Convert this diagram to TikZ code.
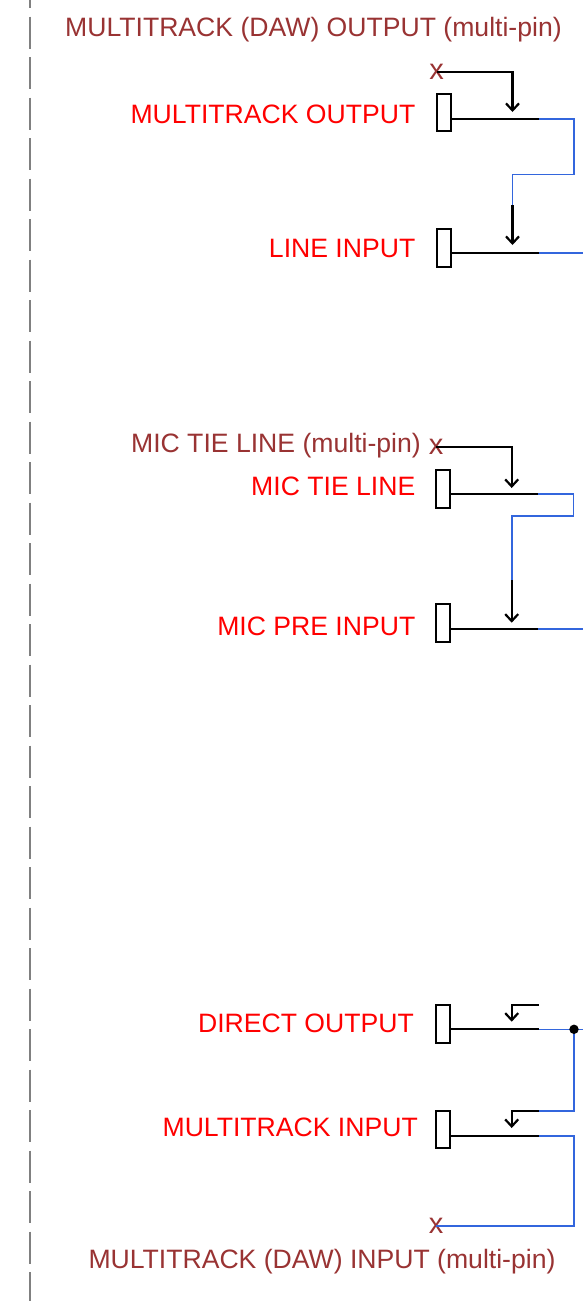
\documentclass[tikz,border=0pt]{standalone}
\usepackage{fontspec}
\setmainfont{Liberation Sans}
\usetikzlibrary{arrows.meta}
\definecolor{lblred}{HTML}{FF0000}
\definecolor{darkred}{HTML}{993333}
\definecolor{wireblue}{HTML}{3366DD}
\definecolor{dashgrey}{HTML}{808080}
\begin{document}
\begin{tikzpicture}[x=1pt,y=-1pt,
  jack/.style={draw=black,line width=2pt,minimum width=14.5pt,minimum height=37.5pt,inner sep=0pt,fill=white},
  lbl/.style={text=lblred,font=\fontsize{26.6}{31}\selectfont,anchor=base east,inner sep=0pt},
  ttl/.style={text=darkred,font=\fontsize{26.6}{31}\selectfont,anchor=base west,inner sep=0pt},
  xmark/.style={text=darkred,font=\fontsize{29}{32}\selectfont,inner sep=0pt},
  wire/.style={draw=black,line width=2.2pt},
  bwire/.style={draw=wireblue,line width=1.6pt},
  sig/.style={draw=black,line width=2.2pt,-{Straight Barb[length=7pt,width=13pt,line width=2.2pt]}},
  divider/.style={draw=dashgrey,line width=2pt,dash pattern=on 32pt off 8.5pt,dash phase=24pt}
]
\useasboundingbox (0,0) rectangle (583,1301);
\fill[white] (0,0) rectangle (583,1301);
\coordinate (dtop) at (30,0);
\coordinate (dbot) at (30,1301);
\draw[divider] (dtop) -- (dbot);

% titles
\node[ttl] (t1) at (65,36.7) {MULTITRACK (DAW) OUTPUT (multi-pin)};
\node[ttl] (t2) at (88.3,1268.3) {MULTITRACK (DAW) INPUT (multi-pin)};
\node[ttl,anchor=base east] (t3) at (421,452.3) {MIC TIE LINE (multi-pin)};

% jacks
\node[jack] (j1) at (444,112.5) {};
\node[jack] (j2) at (444,248) {};
\node[jack] (j3) at (443,488.8) {};
\node[jack] (j4) at (443,623) {};
\node[jack] (j5) at (443,1024.2) {};
\node[jack] (j6) at (443,1129.7) {};

% labels
\node[lbl] (l1) at (415.5,123.7) {MULTITRACK OUTPUT};
\node[lbl] (l2) at (415.5,257.3) {LINE INPUT};
\node[lbl] (l3) at (415.5,495.7) {MIC TIE LINE};
\node[lbl] (l4) at (415.5,635) {MIC PRE INPUT};
\node[lbl] (l5) at (414,1032.3) {DIRECT OUTPUT};
\node[lbl] (l6) at (418,1136.7) {MULTITRACK INPUT};

% x marks
\node[xmark] (x1) at (436.7,71.7) {x};
\node[xmark] (x2) at (436,446.7) {x};
\node[xmark] (x3) at (436,1225.7) {x};

% ---- section 1
\coordinate (a1) at (539,119);
\coordinate (b1) at (574,119);
\coordinate (c1) at (574,174.3);
\coordinate (d1) at (512.5,174.3);
\coordinate (e1) at (512.5,205);
\coordinate (f1) at (512.5,245);
\coordinate (n1) at (512.5,112);
\coordinate (a2) at (539,253);
\coordinate (b2) at (583,253);
\draw[wire] (a1 -| j1.east) -- (a1);
\draw[bwire] (a1) -- (b1) -- (c1) -- (d1) -- (e1);
\draw[sig] (e1) -- (f1);
\draw[sig] (x1.center) -| (n1);
\draw[wire] (a2 -| j2.east) -- (a2);
\draw[bwire] (a2) -- (b2);

% ---- section 2
\coordinate (a3) at (538,494);
\coordinate (b3) at (573.5,494);
\coordinate (c3) at (573.5,515.7);
\coordinate (d3) at (511.7,515.7);
\coordinate (e3) at (511.7,580);
\coordinate (f3) at (511.7,622.7);
\coordinate (n3) at (511.7,488);
\coordinate (a4) at (538,628.7);
\coordinate (b4) at (583,628.7);
\draw[wire] (a3 -| j3.east) -- (a3);
\draw[bwire] (a3) -- (b3) -- (c3) -- (d3) -- (e3);
\draw[sig] (e3) -- (f3);
\draw[sig] (x2.center) -| (n3);
\draw[wire] (a4 -| j4.east) -- (a4);
\draw[bwire] (a4) -- (b4);

% ---- section 3
\coordinate (a5) at (539,1029.3);
\coordinate (dot) at (574,1029.3);
\coordinate (b5) at (583,1029.3);
\coordinate (s5) at (538.5,1005);
\coordinate (n5) at (511.7,1021.7);
\coordinate (c5) at (574,1110.7);
\coordinate (s6) at (538.5,1110.7);
\coordinate (n6) at (511.7,1128);
\coordinate (a6) at (539,1135.7);
\coordinate (b6) at (574,1135.7);
\coordinate (c6) at (574,1225.7);
\draw[wire] (a5 -| j5.east) -- (a5);
\draw[bwire] (a5) -- (b5);
\draw[bwire] (dot) -- (c5) -- (s6);
\draw[sig] (s5) -| (n5);
\draw[sig] (s6) -| (n6);
\draw[wire] (a6 -| j6.east) -- (a6);
\draw[bwire] (a6) -- (b6) -- (c6) -- (x3.center);
\fill[black] (dot) circle (4.7pt);
\end{tikzpicture}
\end{document}
